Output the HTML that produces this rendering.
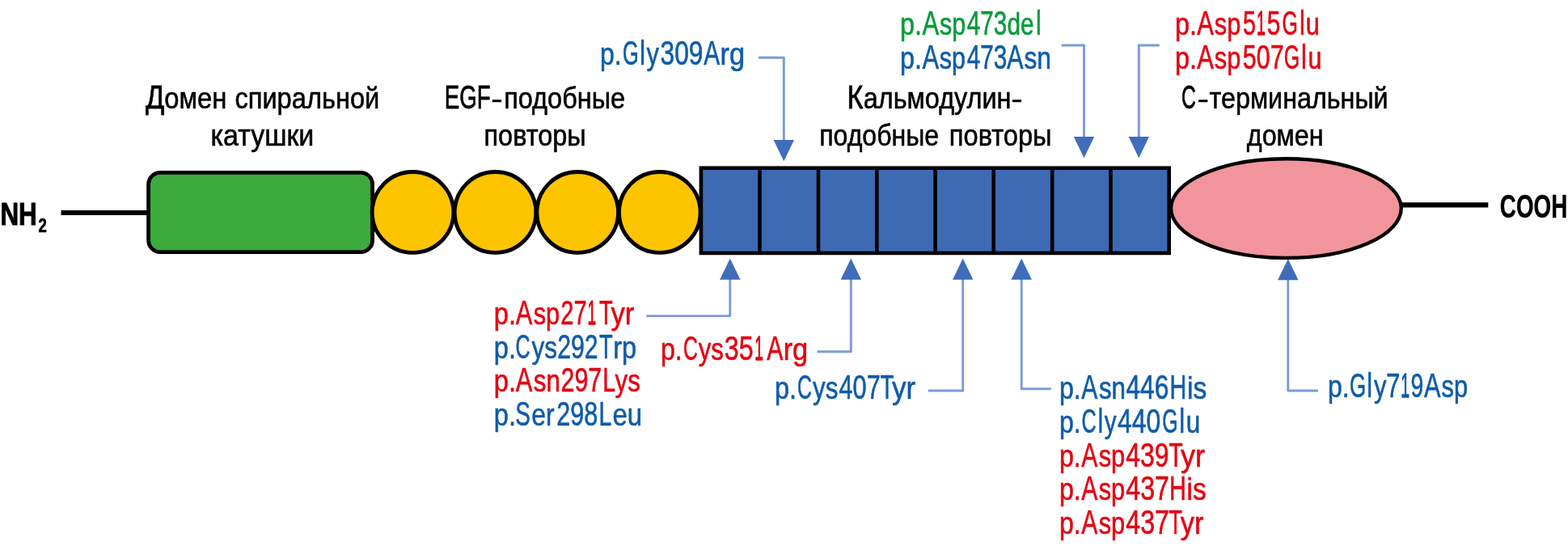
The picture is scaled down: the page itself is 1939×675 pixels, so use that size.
<!DOCTYPE html>
<html lang="ru">
<head>
<meta charset="utf-8">
<title>Схема доменной структуры белка</title>
<style>
html,body{margin:0;padding:0;background:#fff;}
body{width:1939px;height:675px;overflow:hidden;}
svg{display:block;will-change:transform;filter:blur(0.5px);}
text{font-family:"Liberation Sans",sans-serif;stroke-linejoin:round;}
</style>
</head>
<body>
<svg width="1939" height="675" viewBox="0 0 1939 675">
<rect width="1939" height="675" fill="#fff"/>

<line x1="75.5" y1="263" x2="185" y2="263" stroke="#000" stroke-width="6.2"/>
<line x1="1730" y1="253.4" x2="1840.3" y2="253.4" stroke="#000" stroke-width="6.2"/>
<rect x="183.60" y="213.30" width="277.00" height="98.40" rx="14.6" ry="14.6" fill="#3daa3e" stroke="#000" stroke-width="4.8"/>
<ellipse cx="510.5" cy="262.4" rx="50.3" ry="49.9" fill="#fdc400" stroke="#000" stroke-width="4.8"/>
<ellipse cx="612.5" cy="262.4" rx="50.3" ry="49.9" fill="#fdc400" stroke="#000" stroke-width="4.8"/>
<ellipse cx="714.2" cy="262.4" rx="50.3" ry="49.9" fill="#fdc400" stroke="#000" stroke-width="4.8"/>
<ellipse cx="815.8" cy="262.4" rx="50.3" ry="49.9" fill="#fdc400" stroke="#000" stroke-width="4.8"/>
<rect x="866.90" y="207.70" width="578.80" height="105.20" fill="#3d6ab3" stroke="#000" stroke-width="4.6"/>
<line x1="939.5" y1="207.4" x2="939.5" y2="313.2" stroke="#000" stroke-width="4.6"/>
<line x1="1012" y1="207.4" x2="1012" y2="313.2" stroke="#000" stroke-width="4.6"/>
<line x1="1084.3" y1="207.4" x2="1084.3" y2="313.2" stroke="#000" stroke-width="4.6"/>
<line x1="1156.6" y1="207.4" x2="1156.6" y2="313.2" stroke="#000" stroke-width="4.6"/>
<line x1="1228.7" y1="207.4" x2="1228.7" y2="313.2" stroke="#000" stroke-width="4.6"/>
<line x1="1301.2" y1="207.4" x2="1301.2" y2="313.2" stroke="#000" stroke-width="4.6"/>
<line x1="1373.5" y1="207.4" x2="1373.5" y2="313.2" stroke="#000" stroke-width="4.6"/>
<ellipse cx="1590.4" cy="257.6" rx="142.35" ry="61.35" fill="#f2949b" stroke="#000" stroke-width="4.3"/>
<polyline points="938,71.2 969.3,71.2 969.3,176" fill="none" stroke="#7a9bd7" stroke-width="2.9" stroke-linejoin="round"/>
<polygon points="956.6,173.1 982.0,173.1 969.3,199.3" fill="#3f6dbb"/>
<polyline points="1312.7,56 1340.5,56 1340.5,172" fill="none" stroke="#7a9bd7" stroke-width="2.9" stroke-linejoin="round"/>
<polygon points="1327.8,169.0 1353.2,169.0 1340.5,195.2" fill="#3f6dbb"/>
<polyline points="1433.8,56 1408.3,56 1408.3,172" fill="none" stroke="#7a9bd7" stroke-width="2.9" stroke-linejoin="round"/>
<polygon points="1395.6,169.0 1421.0,169.0 1408.3,195.2" fill="#3f6dbb"/>
<polyline points="799.3,390.6 902.8,390.6 902.8,343" fill="none" stroke="#7a9bd7" stroke-width="2.9" stroke-linejoin="round"/>
<polygon points="890.1,345.8 915.5,345.8 902.8,319.6" fill="#3f6dbb"/>
<polyline points="1010.4,434.7 1052.3,434.7 1052.3,343" fill="none" stroke="#7a9bd7" stroke-width="2.9" stroke-linejoin="round"/>
<polygon points="1039.6,345.8 1065.0,345.8 1052.3,319.6" fill="#3f6dbb"/>
<polyline points="1147.7,483 1190.7,483 1190.7,343" fill="none" stroke="#7a9bd7" stroke-width="2.9" stroke-linejoin="round"/>
<polygon points="1178.0,345.8 1203.4,345.8 1190.7,319.6" fill="#3f6dbb"/>
<polyline points="1299.6,480.8 1263.2,480.8 1263.2,343" fill="none" stroke="#7a9bd7" stroke-width="2.9" stroke-linejoin="round"/>
<polygon points="1250.5,345.8 1275.9,345.8 1263.2,319.6" fill="#3f6dbb"/>
<polyline points="1630,483 1592.8,483 1592.8,343" fill="none" stroke="#7a9bd7" stroke-width="2.9" stroke-linejoin="round"/>
<polygon points="1580.1,346.2 1605.5,346.2 1592.8,320.0" fill="#3f6dbb"/>
<text fill="#000000" stroke="#000000" stroke-width="0.6" xml:space="preserve"><tspan x="180.02" y="133.9" font-size="41.2" stroke-width="0.8" textLength="23.35" lengthAdjust="spacingAndGlyphs">Д</tspan><tspan x="203.31" y="133.9" font-size="37.3" textLength="86.22" lengthAdjust="spacingAndGlyphs">омен </tspan><tspan x="290.43" y="133.9" font-size="37.3" textLength="178.92" lengthAdjust="spacingAndGlyphs">спиральной</tspan></text>
<text fill="#000000" stroke="#000000" stroke-width="0.6" xml:space="preserve"><tspan x="260.50" y="179.8" font-size="37.3" textLength="127.82" lengthAdjust="spacingAndGlyphs">катушки</tspan></text>
<text fill="#000000" stroke="#000000" stroke-width="0.6" xml:space="preserve"><tspan x="549.79" y="133.9" font-size="41.2" stroke-width="0.8" textLength="56.90" lengthAdjust="spacingAndGlyphs">EGF</tspan><tspan x="607.19" y="132.6" font-size="32" textLength="14.39" lengthAdjust="spacingAndGlyphs">-</tspan><tspan x="623.17" y="133.9" font-size="37.3" textLength="149.98" lengthAdjust="spacingAndGlyphs">подобные</tspan></text>
<text fill="#000000" stroke="#000000" stroke-width="0.6" xml:space="preserve"><tspan x="598.54" y="179.8" font-size="37.3" textLength="126.06" lengthAdjust="spacingAndGlyphs">повторы</tspan></text>
<text fill="#000000" stroke="#000000" stroke-width="0.6" xml:space="preserve"><tspan x="1047.39" y="133.9" font-size="41.2" stroke-width="0.8" textLength="19.87" lengthAdjust="spacingAndGlyphs">К</tspan><tspan x="1067.78" y="133.9" font-size="37.3" textLength="182.74" lengthAdjust="spacingAndGlyphs">альмодулин</tspan><tspan x="1250.26" y="132.6" font-size="32" textLength="14.37" lengthAdjust="spacingAndGlyphs">-</tspan></text>
<text fill="#000000" stroke="#000000" stroke-width="0.6" xml:space="preserve"><tspan x="1013.16" y="179.6" font-size="37.3" textLength="156.89" lengthAdjust="spacingAndGlyphs">подобные </tspan><tspan x="1173.87" y="179.6" font-size="37.3" textLength="126.62" lengthAdjust="spacingAndGlyphs">повторы</tspan></text>
<text fill="#000000" stroke="#000000" stroke-width="0.6" xml:space="preserve"><tspan x="1461.00" y="133.9" font-size="41.2" stroke-width="0.9" textLength="17.87" lengthAdjust="spacingAndGlyphs">С</tspan><tspan x="1480.50" y="132.6" font-size="32" textLength="14.43" lengthAdjust="spacingAndGlyphs">-</tspan><tspan x="1495.58" y="133.9" font-size="37.3" textLength="221.05" lengthAdjust="spacingAndGlyphs">терминальный</tspan></text>
<text fill="#000000" stroke="#000000" stroke-width="0.6" xml:space="preserve"><tspan x="1541.80" y="179.6" font-size="37.3" textLength="94.87" lengthAdjust="spacingAndGlyphs">домен</tspan></text>
<text fill="#0f5ca9" stroke="#0f5ca9" stroke-width="0.65" xml:space="preserve"><tspan x="742.07" y="79.8" font-size="39.5" textLength="26.68" lengthAdjust="spacingAndGlyphs">p.</tspan><tspan x="769.90" y="79.8" font-size="42.2" textLength="19.78" lengthAdjust="spacingAndGlyphs">G</tspan><tspan x="791.01" y="79.8" font-size="42.2" textLength="7.08" lengthAdjust="spacingAndGlyphs">l</tspan><tspan x="799.40" y="79.8" font-size="39.5" textLength="15.40" lengthAdjust="spacingAndGlyphs">y</tspan><tspan x="816.50" y="79.8" font-size="42.2" textLength="52.88" lengthAdjust="spacingAndGlyphs">309</tspan><tspan x="870.36" y="79.8" font-size="42.2" textLength="19.93" lengthAdjust="spacingAndGlyphs">A</tspan><tspan x="890.49" y="79.8" font-size="39.5" textLength="30.55" lengthAdjust="spacingAndGlyphs">rg</tspan></text>
<text fill="#0a9a3a" stroke="#0a9a3a" stroke-width="0.65" xml:space="preserve"><tspan x="1112.98" y="42.6" font-size="39.5" textLength="26.98" lengthAdjust="spacingAndGlyphs">p.</tspan><tspan x="1140.42" y="42.6" font-size="42.2" textLength="20.70" lengthAdjust="spacingAndGlyphs">A</tspan><tspan x="1161.91" y="42.6" font-size="39.5" textLength="32.19" lengthAdjust="spacingAndGlyphs">sp</tspan><tspan x="1195.81" y="42.6" font-size="42.2" textLength="49.38" lengthAdjust="spacingAndGlyphs">473</tspan><tspan x="1245.46" y="42.6" font-size="39.5" textLength="33.07" lengthAdjust="spacingAndGlyphs">de</tspan><tspan x="1281.05" y="42.6" font-size="42.2" textLength="6.69" lengthAdjust="spacingAndGlyphs">l</tspan></text>
<text fill="#0f5ca9" stroke="#0f5ca9" stroke-width="0.65" xml:space="preserve"><tspan x="1112.95" y="84.7" font-size="39.5" textLength="26.97" lengthAdjust="spacingAndGlyphs">p.</tspan><tspan x="1140.38" y="84.7" font-size="42.2" textLength="20.65" lengthAdjust="spacingAndGlyphs">A</tspan><tspan x="1161.85" y="84.7" font-size="39.5" textLength="32.20" lengthAdjust="spacingAndGlyphs">sp</tspan><tspan x="1195.79" y="84.7" font-size="42.2" textLength="49.42" lengthAdjust="spacingAndGlyphs">473</tspan><tspan x="1245.09" y="84.7" font-size="42.2" textLength="20.53" lengthAdjust="spacingAndGlyphs">A</tspan><tspan x="1266.49" y="84.7" font-size="39.5" textLength="33.50" lengthAdjust="spacingAndGlyphs">sn</tspan></text>
<text fill="#e30613" stroke="#e30613" stroke-width="0.65" xml:space="preserve"><tspan x="1452.93" y="42.6" font-size="39.5" textLength="26.99" lengthAdjust="spacingAndGlyphs">p.</tspan><tspan x="1480.35" y="42.6" font-size="42.2" textLength="20.66" lengthAdjust="spacingAndGlyphs">A</tspan><tspan x="1501.82" y="42.6" font-size="39.5" textLength="32.47" lengthAdjust="spacingAndGlyphs">sp</tspan><tspan x="1536.91" y="42.6" font-size="42.2" textLength="16.00" lengthAdjust="spacingAndGlyphs">5</tspan><tspan x="1553.90" y="42.6" font-size="42.2" stroke-width="1.3" textLength="10.90" lengthAdjust="spacingAndGlyphs">1</tspan><tspan x="1566.71" y="42.6" font-size="42.2" textLength="16.66" lengthAdjust="spacingAndGlyphs">5</tspan><tspan x="1585.55" y="42.6" font-size="42.2" textLength="19.35" lengthAdjust="spacingAndGlyphs">G</tspan><tspan x="1607.05" y="42.6" font-size="42.2" textLength="6.83" lengthAdjust="spacingAndGlyphs">l</tspan><tspan x="1614.87" y="42.6" font-size="39.5" textLength="16.96" lengthAdjust="spacingAndGlyphs">u</tspan></text>
<text fill="#e30613" stroke="#e30613" stroke-width="0.65" xml:space="preserve"><tspan x="1452.93" y="84.7" font-size="39.5" textLength="26.99" lengthAdjust="spacingAndGlyphs">p.</tspan><tspan x="1480.35" y="84.7" font-size="42.2" textLength="20.66" lengthAdjust="spacingAndGlyphs">A</tspan><tspan x="1501.82" y="84.7" font-size="39.5" textLength="32.47" lengthAdjust="spacingAndGlyphs">sp</tspan><tspan x="1536.78" y="84.7" font-size="42.2" textLength="50.80" lengthAdjust="spacingAndGlyphs">507</tspan><tspan x="1587.86" y="84.7" font-size="42.2" textLength="19.41" lengthAdjust="spacingAndGlyphs">G</tspan><tspan x="1608.95" y="84.7" font-size="42.2" textLength="6.80" lengthAdjust="spacingAndGlyphs">l</tspan><tspan x="1617.47" y="84.7" font-size="39.5" textLength="16.85" lengthAdjust="spacingAndGlyphs">u</tspan></text>
<text fill="#e30613" stroke="#e30613" stroke-width="0.65" xml:space="preserve"><tspan x="610.81" y="400.5" font-size="39.5" textLength="27.20" lengthAdjust="spacingAndGlyphs">p.</tspan><tspan x="637.81" y="400.5" font-size="42.2" textLength="20.56" lengthAdjust="spacingAndGlyphs">A</tspan><tspan x="659.71" y="400.5" font-size="39.5" textLength="32.43" lengthAdjust="spacingAndGlyphs">sp</tspan><tspan x="693.37" y="400.5" font-size="42.2" textLength="32.33" lengthAdjust="spacingAndGlyphs">27</tspan><tspan x="726.53" y="400.5" font-size="42.2" stroke-width="1.3" textLength="10.67" lengthAdjust="spacingAndGlyphs">1</tspan><tspan x="740.98" y="400.5" font-size="42.2" textLength="16.75" lengthAdjust="spacingAndGlyphs">T</tspan><tspan x="755.38" y="400.5" font-size="39.5" textLength="28.77" lengthAdjust="spacingAndGlyphs">yr</tspan></text>
<text fill="#0f5ca9" stroke="#0f5ca9" stroke-width="0.65" xml:space="preserve"><tspan x="610.85" y="442.5" font-size="39.5" textLength="27.15" lengthAdjust="spacingAndGlyphs">p.</tspan><tspan x="637.55" y="442.5" font-size="42.2" textLength="18.08" lengthAdjust="spacingAndGlyphs">C</tspan><tspan x="657.56" y="442.5" font-size="39.5" textLength="31.53" lengthAdjust="spacingAndGlyphs">ys</tspan><tspan x="689.20" y="442.5" font-size="42.2" textLength="50.43" lengthAdjust="spacingAndGlyphs">292</tspan><tspan x="741.01" y="442.5" font-size="42.2" textLength="16.73" lengthAdjust="spacingAndGlyphs">T</tspan><tspan x="758.21" y="442.5" font-size="39.5" textLength="28.94" lengthAdjust="spacingAndGlyphs">rp</tspan></text>
<text fill="#e30613" stroke="#e30613" stroke-width="0.65" xml:space="preserve"><tspan x="610.81" y="483.7" font-size="39.5" textLength="27.20" lengthAdjust="spacingAndGlyphs">p.</tspan><tspan x="637.81" y="483.7" font-size="42.2" textLength="20.56" lengthAdjust="spacingAndGlyphs">A</tspan><tspan x="659.85" y="483.7" font-size="39.5" textLength="33.00" lengthAdjust="spacingAndGlyphs">sn</tspan><tspan x="693.49" y="483.7" font-size="42.2" textLength="50.76" lengthAdjust="spacingAndGlyphs">297</tspan><tspan x="745.37" y="483.7" font-size="42.2" textLength="15.74" lengthAdjust="spacingAndGlyphs">L</tspan><tspan x="760.60" y="483.7" font-size="39.5" textLength="31.22" lengthAdjust="spacingAndGlyphs">ys</tspan></text>
<text fill="#0f5ca9" stroke="#0f5ca9" stroke-width="0.65" xml:space="preserve"><tspan x="610.85" y="525.6" font-size="39.5" textLength="27.15" lengthAdjust="spacingAndGlyphs">p.</tspan><tspan x="637.24" y="525.6" font-size="42.2" textLength="18.63" lengthAdjust="spacingAndGlyphs">S</tspan><tspan x="657.32" y="525.6" font-size="39.5" textLength="28.31" lengthAdjust="spacingAndGlyphs">er</tspan><tspan x="688.34" y="525.6" font-size="42.2" textLength="50.93" lengthAdjust="spacingAndGlyphs">298</tspan><tspan x="740.43" y="525.6" font-size="42.2" textLength="15.84" lengthAdjust="spacingAndGlyphs">L</tspan><tspan x="757.42" y="525.6" font-size="39.5" textLength="36.65" lengthAdjust="spacingAndGlyphs">eu</tspan></text>
<text fill="#e30613" stroke="#e30613" stroke-width="0.65" xml:space="preserve"><tspan x="817.03" y="444.6" font-size="39.5" textLength="26.73" lengthAdjust="spacingAndGlyphs">p.</tspan><tspan x="844.92" y="444.6" font-size="42.2" textLength="17.92" lengthAdjust="spacingAndGlyphs">C</tspan><tspan x="863.75" y="444.6" font-size="39.5" textLength="31.09" lengthAdjust="spacingAndGlyphs">ys</tspan><tspan x="895.87" y="444.6" font-size="42.2" textLength="35.84" lengthAdjust="spacingAndGlyphs">35</tspan><tspan x="933.33" y="444.6" font-size="42.2" stroke-width="1.3" textLength="10.65" lengthAdjust="spacingAndGlyphs">1</tspan><tspan x="948.36" y="444.6" font-size="42.2" textLength="20.09" lengthAdjust="spacingAndGlyphs">A</tspan><tspan x="968.64" y="444.6" font-size="39.5" textLength="30.55" lengthAdjust="spacingAndGlyphs">rg</tspan></text>
<text fill="#0f5ca9" stroke="#0f5ca9" stroke-width="0.65" xml:space="preserve"><tspan x="957.97" y="493.4" font-size="39.5" textLength="27.03" lengthAdjust="spacingAndGlyphs">p.</tspan><tspan x="985.90" y="493.4" font-size="42.2" textLength="17.94" lengthAdjust="spacingAndGlyphs">C</tspan><tspan x="1005.02" y="493.4" font-size="39.5" textLength="31.31" lengthAdjust="spacingAndGlyphs">ys</tspan><tspan x="1037.60" y="493.4" font-size="42.2" textLength="51.08" lengthAdjust="spacingAndGlyphs">407</tspan><tspan x="1088.40" y="493.4" font-size="42.2" textLength="16.93" lengthAdjust="spacingAndGlyphs">T</tspan><tspan x="1102.90" y="493.4" font-size="39.5" textLength="29.27" lengthAdjust="spacingAndGlyphs">yr</tspan></text>
<text fill="#0f5ca9" stroke="#0f5ca9" stroke-width="0.65" xml:space="preserve"><tspan x="1310.07" y="492.7" font-size="39.5" textLength="26.68" lengthAdjust="spacingAndGlyphs">p.</tspan><tspan x="1337.28" y="492.7" font-size="42.2" textLength="20.09" lengthAdjust="spacingAndGlyphs">A</tspan><tspan x="1358.90" y="492.7" font-size="39.5" textLength="33.06" lengthAdjust="spacingAndGlyphs">sn</tspan><tspan x="1392.38" y="492.7" font-size="42.2" textLength="52.96" lengthAdjust="spacingAndGlyphs">446</tspan><tspan x="1446.48" y="492.7" font-size="42.2" textLength="20.71" lengthAdjust="spacingAndGlyphs">H</tspan><tspan x="1468.05" y="492.7" font-size="39.5" textLength="24.31" lengthAdjust="spacingAndGlyphs">is</tspan></text>
<text fill="#0f5ca9" stroke="#0f5ca9" stroke-width="0.65" xml:space="preserve"><tspan x="1310.07" y="534.6" font-size="39.5" textLength="26.68" lengthAdjust="spacingAndGlyphs">p.</tspan><tspan x="1337.57" y="534.6" font-size="42.2" textLength="18.17" lengthAdjust="spacingAndGlyphs">C</tspan><tspan x="1357.87" y="534.6" font-size="42.2" textLength="6.29" lengthAdjust="spacingAndGlyphs">l</tspan><tspan x="1365.87" y="534.6" font-size="39.5" textLength="14.87" lengthAdjust="spacingAndGlyphs">y</tspan><tspan x="1381.98" y="534.6" font-size="42.2" textLength="53.20" lengthAdjust="spacingAndGlyphs">440</tspan><tspan x="1437.25" y="534.6" font-size="42.2" textLength="19.36" lengthAdjust="spacingAndGlyphs">G</tspan><tspan x="1458.13" y="534.6" font-size="42.2" textLength="6.95" lengthAdjust="spacingAndGlyphs">l</tspan><tspan x="1466.76" y="534.6" font-size="39.5" textLength="17.46" lengthAdjust="spacingAndGlyphs">u</tspan></text>
<text fill="#e30613" stroke="#e30613" stroke-width="0.65" xml:space="preserve"><tspan x="1310.03" y="576.5" font-size="39.5" textLength="26.73" lengthAdjust="spacingAndGlyphs">p.</tspan><tspan x="1337.24" y="576.5" font-size="42.2" textLength="20.10" lengthAdjust="spacingAndGlyphs">A</tspan><tspan x="1358.65" y="576.5" font-size="39.5" textLength="32.51" lengthAdjust="spacingAndGlyphs">sp</tspan><tspan x="1392.33" y="576.5" font-size="42.2" textLength="53.21" lengthAdjust="spacingAndGlyphs">439</tspan><tspan x="1445.57" y="576.5" font-size="42.2" textLength="17.17" lengthAdjust="spacingAndGlyphs">T</tspan><tspan x="1460.04" y="576.5" font-size="39.5" textLength="29.97" lengthAdjust="spacingAndGlyphs">yr</tspan></text>
<text fill="#e30613" stroke="#e30613" stroke-width="0.65" xml:space="preserve"><tspan x="1310.03" y="617.8" font-size="39.5" textLength="26.73" lengthAdjust="spacingAndGlyphs">p.</tspan><tspan x="1337.24" y="617.8" font-size="42.2" textLength="20.10" lengthAdjust="spacingAndGlyphs">A</tspan><tspan x="1358.65" y="617.8" font-size="39.5" textLength="32.51" lengthAdjust="spacingAndGlyphs">sp</tspan><tspan x="1392.32" y="617.8" font-size="42.2" textLength="53.60" lengthAdjust="spacingAndGlyphs">437</tspan><tspan x="1446.09" y="617.8" font-size="42.2" textLength="20.82" lengthAdjust="spacingAndGlyphs">H</tspan><tspan x="1467.55" y="617.8" font-size="39.5" textLength="24.10" lengthAdjust="spacingAndGlyphs">is</tspan></text>
<text fill="#e30613" stroke="#e30613" stroke-width="0.65" xml:space="preserve"><tspan x="1310.03" y="659.7" font-size="39.5" textLength="26.73" lengthAdjust="spacingAndGlyphs">p.</tspan><tspan x="1337.24" y="659.7" font-size="42.2" textLength="20.10" lengthAdjust="spacingAndGlyphs">A</tspan><tspan x="1358.65" y="659.7" font-size="39.5" textLength="32.51" lengthAdjust="spacingAndGlyphs">sp</tspan><tspan x="1392.32" y="659.7" font-size="42.2" textLength="53.60" lengthAdjust="spacingAndGlyphs">437</tspan><tspan x="1445.22" y="659.7" font-size="42.2" textLength="16.71" lengthAdjust="spacingAndGlyphs">T</tspan><tspan x="1459.82" y="659.7" font-size="39.5" textLength="28.71" lengthAdjust="spacingAndGlyphs">yr</tspan></text>
<text fill="#0f5ca9" stroke="#0f5ca9" stroke-width="0.65" xml:space="preserve"><tspan x="1642.07" y="490.6" font-size="39.5" textLength="26.68" lengthAdjust="spacingAndGlyphs">p.</tspan><tspan x="1669.11" y="490.6" font-size="42.2" textLength="20.19" lengthAdjust="spacingAndGlyphs">G</tspan><tspan x="1690.24" y="490.6" font-size="42.2" textLength="6.82" lengthAdjust="spacingAndGlyphs">l</tspan><tspan x="1698.99" y="490.6" font-size="39.5" textLength="15.48" lengthAdjust="spacingAndGlyphs">y</tspan><tspan x="1714.00" y="490.6" font-size="42.2" textLength="17.52" lengthAdjust="spacingAndGlyphs">7</tspan><tspan x="1732.25" y="490.6" font-size="42.2" stroke-width="1.3" textLength="10.84" lengthAdjust="spacingAndGlyphs">1</tspan><tspan x="1744.44" y="490.6" font-size="42.2" textLength="15.70" lengthAdjust="spacingAndGlyphs">9</tspan><tspan x="1761.09" y="490.6" font-size="42.2" textLength="20.53" lengthAdjust="spacingAndGlyphs">A</tspan><tspan x="1782.53" y="490.6" font-size="39.5" textLength="32.51" lengthAdjust="spacingAndGlyphs">sp</tspan></text>
<text fill="#000000" font-weight="bold" stroke="#000000" stroke-width="1.0" xml:space="preserve"><tspan x="0.38" y="277.5" font-size="39.2" textLength="45.36" lengthAdjust="spacingAndGlyphs">NH</tspan><tspan x="47.62" y="287.0" font-size="24.4" stroke-width="0.7" textLength="10.33" lengthAdjust="spacingAndGlyphs">2</tspan></text>
<text fill="#000000" font-weight="bold" stroke="#000000" stroke-width="0.4" xml:space="preserve"><tspan x="1854.81" y="268.7" font-size="41.2" textLength="83.44" lengthAdjust="spacingAndGlyphs">COOH</tspan></text>
</svg>
</body>
</html>
